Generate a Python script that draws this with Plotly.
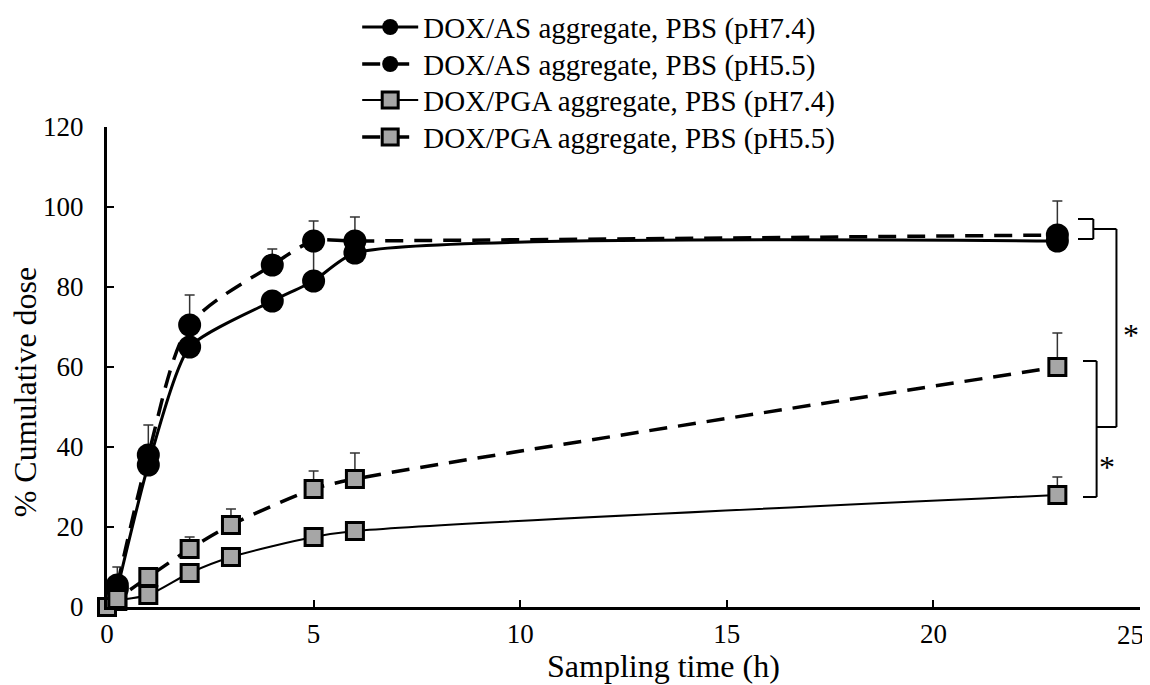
import plotly.graph_objects as go

# ---- data ----
t_as = [0.25, 1, 2, 4, 5, 6, 23]
as_74 = [4.5, 35.5, 65, 76.5, 81.5, 88.5, 91.5]
as_74_err = [0, 0, 0, 0, 10, 0, 0]
as_55 = [5.5, 38, 70.5, 85.5, 91.5, 91.5, 93]
as_55_err = [4.5, 7.5, 7.5, 4, 5, 6, 8.5]

t_pga = [0, 0.25, 1, 2, 3, 5, 6, 23]
pga_74 = [-0.5, 1.5, 3, 8.5, 12.5, 17.5, 19, 28]
pga_74_err = [0, 0, 0, 0, 0, 0, 0, 4.5]
pga_55 = [0, 2, 7.5, 14.5, 20.5, 29.5, 32, 60]
pga_55_err = [0, 0, 0, 3, 4, 4.5, 6.5, 8.5]

names = ["DOX/AS aggregate, PBS (pH7.4)", "DOX/AS aggregate, PBS (pH5.5)",
         "DOX/PGA aggregate, PBS (pH7.4)", "DOX/PGA aggregate, PBS (pH5.5)"]

x_ticks = [0, 5, 10, 15, 20, 25]
x_ticktext = ["0", "5", "10", "15", "20", ""]   # last label drawn right-aligned below
x_last_label = "25"
y_ticks = [0, 20, 40, 60, 80, 100, 120]

FONT = "Liberation Serif, Times New Roman, serif"
DASH = "18px,11px"

fig = go.Figure()

def err(arr, color="#333"):
    return dict(type="data", array=arr, arrayminus=[0] * len(arr), symmetric=False,
                color=color, thickness=1.5, width=5)

circle = dict(symbol="circle", size=23, color="black")
square = dict(symbol="square", size=17, color="#a6a6a6", line=dict(color="black", width=3))

fig.add_trace(go.Scatter(x=t_as, y=as_74, name=names[0], mode="lines+markers", legend="legend",
                         line=dict(color="black", width=3, shape="spline", smoothing=0.6),
                         marker=circle, error_y=err(as_74_err), cliponaxis=False))
fig.add_trace(go.Scatter(x=t_as, y=as_55, name=names[1], mode="lines+markers", legend="legend2",
                         line=dict(color="black", width=3.5, dash=DASH, shape="spline", smoothing=0.8),
                         marker=circle, error_y=err(as_55_err), cliponaxis=False))
fig.add_trace(go.Scatter(x=t_pga, y=pga_74, name=names[2], mode="lines+markers", legend="legend3",
                         line=dict(color="black", width=2, shape="spline", smoothing=0.8),
                         marker=square, error_y=err(pga_74_err), cliponaxis=False))
fig.add_trace(go.Scatter(x=t_pga, y=pga_55, name=names[3], mode="lines+markers", legend="legend4",
                         line=dict(color="black", width=3.5, dash=DASH, shape="spline", smoothing=0.8),
                         marker=square, error_y=err(pga_55_err), cliponaxis=False))

# ---- significance brackets ----
lw = dict(color="black", width=2)
xe = t_as[-1]
def seg(x0, y0, x1, y1):
    fig.add_shape(type="line", x0=x0, y0=y0, x1=x1, y1=y1, xref="x", yref="y", line=lw)

seg(xe + 0.5, 97, xe + 0.87, 97)
seg(xe + 0.87, 97, xe + 0.87, 92)
seg(xe + 0.5, 92, xe + 0.87, 92)
seg(xe + 0.62, 61.5, xe + 0.95, 61.5)
seg(xe + 0.95, 61.5, xe + 0.95, 27.5)
seg(xe + 0.62, 27.5, xe + 0.95, 27.5)
seg(xe + 0.87, 94.5, xe + 1.43, 94.5)
seg(xe + 1.43, 94.5, xe + 1.43, 45)
seg(xe + 0.95, 45, xe + 1.43, 45)

fig.add_annotation(x=xe + 1.77, y=68, text="*", showarrow=False, xref="x", yref="y",
                   font=dict(family=FONT, size=32, color="black"))
fig.add_annotation(x=xe + 1.2, y=35, text="*", showarrow=False, xref="x", yref="y",
                   font=dict(family=FONT, size=32, color="black"))

# last x tick label, kept inside the page
fig.add_annotation(x=x_ticks[-1], y=-0.058, xref="x", yref="paper", text=x_last_label,
                   xanchor="right", yanchor="middle", showarrow=False, xshift=6,
                   font=dict(family=FONT, size=27, color="black"))

# axis titles
fig.add_annotation(text="Sampling time (h)", x=0.539, y=-0.123, xref="paper", yref="paper",
                   xanchor="center", yanchor="middle", showarrow=False,
                   font=dict(family=FONT, size=32, color="black"))
fig.add_annotation(text="% Cumulative dose", x=-0.079, y=0.448, xref="paper", yref="paper",
                   xanchor="center", yanchor="middle", showarrow=False, textangle=-90,
                   font=dict(family=FONT, size=32, color="black"))

leg_common = dict(x=0.2422, xanchor="left", yanchor="middle", bgcolor="rgba(0,0,0,0)",
                  font=dict(family=FONT, size=29, color="black"), itemwidth=56)
leg_rows = [1.208, 1.131, 1.056, 0.979]

# page body adds an 8px offset, so the figure is 8px smaller than the window
fig.update_layout(
    width=1142, height=677,
    paper_bgcolor="white", plot_bgcolor="white",
    margin=dict(l=99, r=10, t=119, b=78, autoexpand=False),
    font=dict(family=FONT, size=27, color="black"),
    showlegend=True,
    legend=dict(y=leg_rows[0], **leg_common),
    legend2=dict(y=leg_rows[1], **leg_common),
    legend3=dict(y=leg_rows[2], **leg_common),
    legend4=dict(y=leg_rows[3], **leg_common),
    xaxis=dict(range=[0, 25], tickvals=x_ticks, ticktext=x_ticktext, showgrid=False, zeroline=False,
               showline=True, linecolor="black", linewidth=3,
               ticks="inside", ticklen=7, tickwidth=2, tickcolor="black",
               tickfont=dict(family=FONT, size=27), ticklabelstandoff=1),
    yaxis=dict(range=[0, 120], tickvals=y_ticks, showgrid=False, zeroline=False,
               showline=True, linecolor="black", linewidth=3,
               ticks="inside", ticklen=7, tickwidth=2, tickcolor="black",
               tickfont=dict(family=FONT, size=27), ticklabelstandoff=15,
               ticklabeloverflow="allow"),
)

fig.write_html("out.html")
